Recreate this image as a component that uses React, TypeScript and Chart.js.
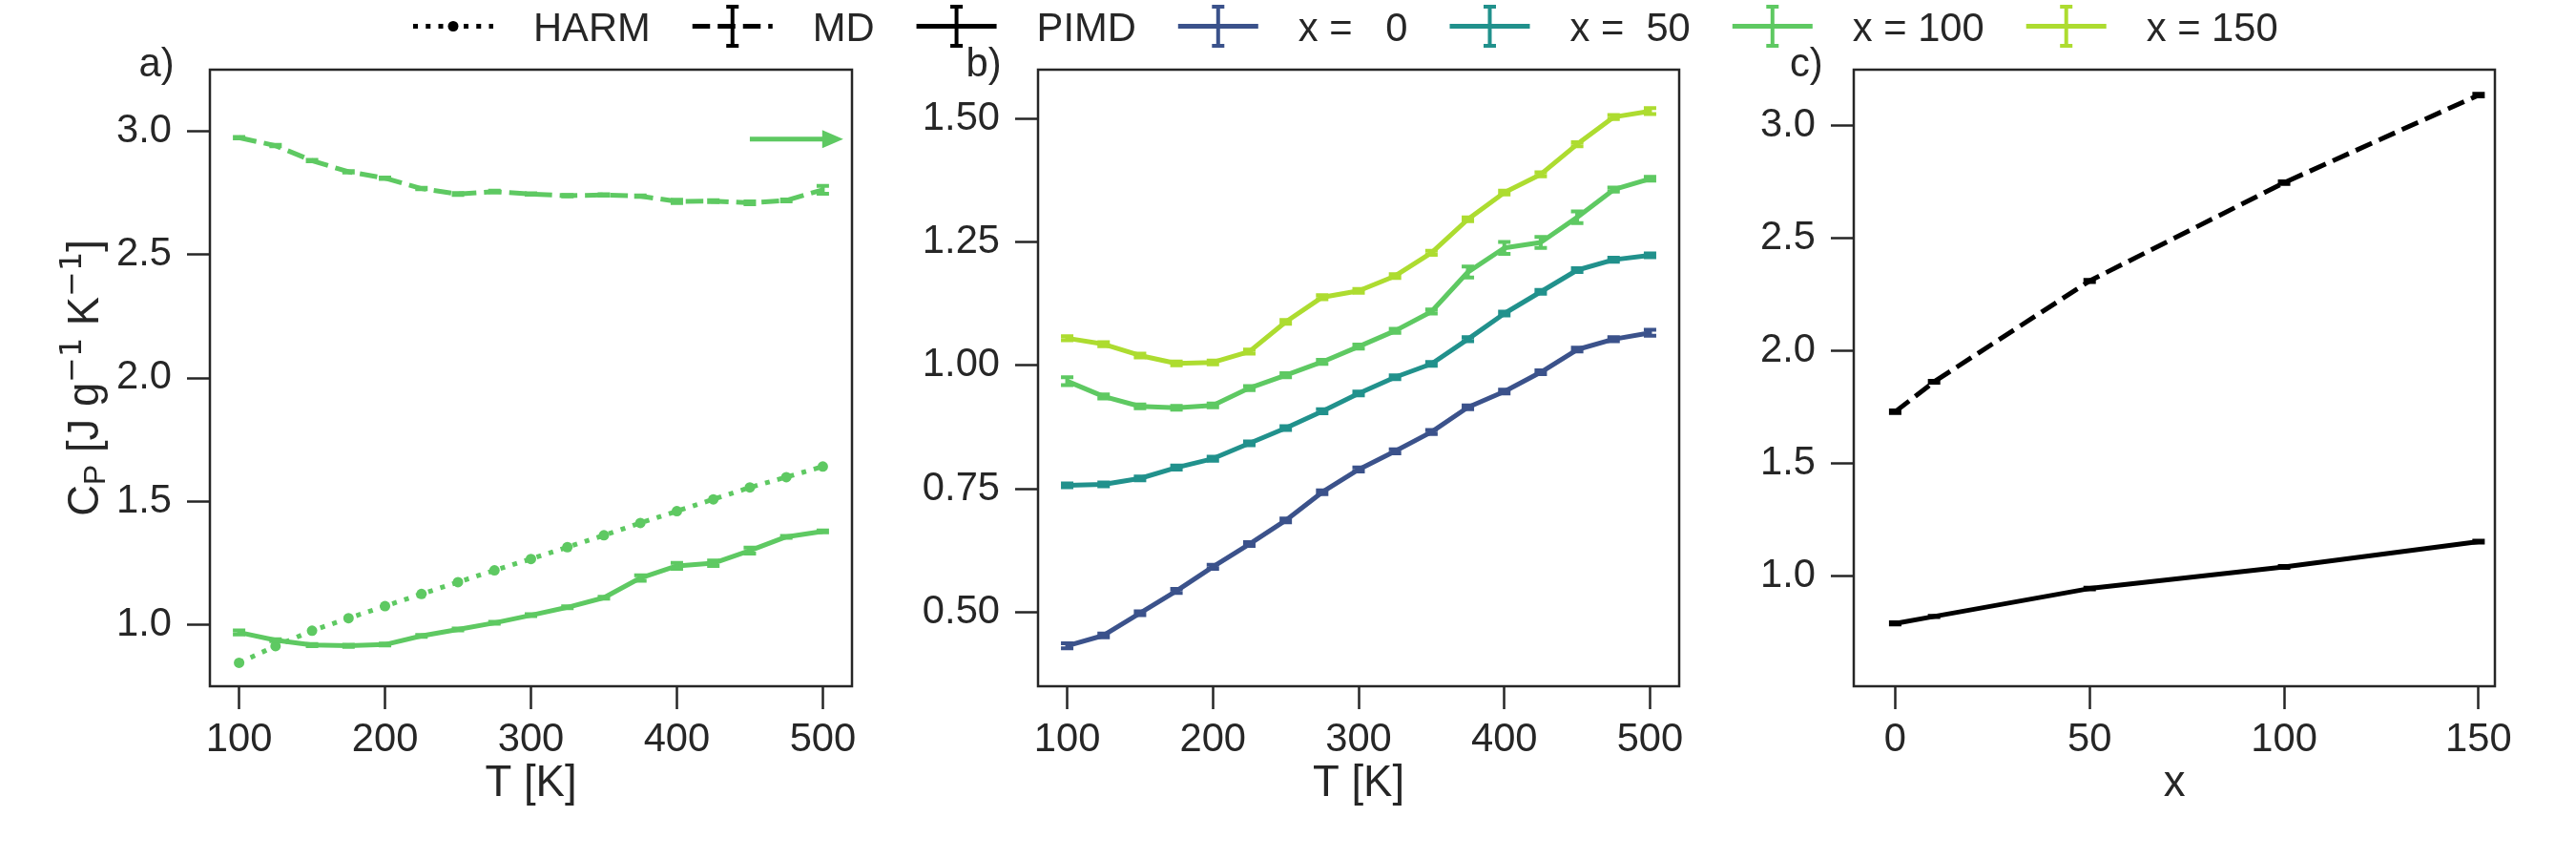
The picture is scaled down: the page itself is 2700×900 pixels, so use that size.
import React, { useEffect, useRef } from "react";
import { Chart, registerables } from "chart.js";

Chart.register(...registerables);

// ---------------- data ----------------
const T_K = [100, 125, 150, 175, 200, 225, 250, 275, 300, 325, 350, 375, 400, 425, 450, 475, 500];

// panel a: x = 100
const HARM_X100 = [0.845, 0.913, 0.975, 1.026, 1.075, 1.124, 1.172, 1.22, 1.266, 1.314, 1.362, 1.412, 1.46, 1.508, 1.556, 1.598, 1.641];
const MD_X100 = [2.974, 2.942, 2.881, 2.836, 2.81, 2.768, 2.746, 2.756, 2.746, 2.739, 2.742, 2.737, 2.716, 2.717, 2.71, 2.72, 2.763];
const MD_X100_ERR = [0.003, 0.003, 0.003, 0.003, 0.003, 0.003, 0.004, 0.003, 0.003, 0.003, 0.003, 0.003, 0.007, 0.004, 0.006, 0.004, 0.016];
const PIMD_X100 = [0.968, 0.937, 0.917, 0.914, 0.919, 0.954, 0.98, 1.007, 1.038, 1.07, 1.109, 1.189, 1.238, 1.249, 1.3, 1.356, 1.378];
const PIMD_X100_ERR = [0.008, 0.004, 0.004, 0.004, 0.004, 0.004, 0.004, 0.004, 0.004, 0.004, 0.004, 0.011, 0.012, 0.011, 0.012, 0.004, 0.004];

// panel b: PIMD for x = 0, 50, 150 (x = 100 above)
const PIMD_X0 = [0.432, 0.453, 0.498, 0.543, 0.592, 0.638, 0.686, 0.743, 0.789, 0.826, 0.865, 0.915, 0.947, 0.986, 1.032, 1.053, 1.066];
const PIMD_X0_ERR = [0.005, 0.004, 0.004, 0.004, 0.004, 0.004, 0.004, 0.004, 0.004, 0.004, 0.004, 0.004, 0.004, 0.004, 0.004, 0.004, 0.006];
const PIMD_X50 = [0.757, 0.759, 0.771, 0.793, 0.811, 0.842, 0.873, 0.907, 0.943, 0.976, 1.003, 1.053, 1.105, 1.149, 1.193, 1.214, 1.223];
const PIMD_X50_ERR = [0.004, 0.004, 0.004, 0.004, 0.004, 0.004, 0.004, 0.004, 0.004, 0.004, 0.004, 0.004, 0.004, 0.004, 0.004, 0.004, 0.004];
const PIMD_X150 = [1.055, 1.043, 1.02, 1.004, 1.006, 1.028, 1.088, 1.138, 1.151, 1.181, 1.228, 1.296, 1.35, 1.387, 1.448, 1.503, 1.515];
const PIMD_X150_ERR = [0.004, 0.004, 0.004, 0.004, 0.004, 0.004, 0.004, 0.004, 0.004, 0.004, 0.004, 0.004, 0.004, 0.004, 0.004, 0.004, 0.006];

// panel c: T = 300 K
const X_CONTENT = [0, 10, 50, 100, 150];
const MD_T300 = [1.73, 1.863, 2.311, 2.747, 3.136];
const MD_T300_ERR = [0.006, 0.004, 0.005, 0.006, 0.006];
const PIMD_T300 = [0.79, 0.821, 0.945, 1.041, 1.153];
const PIMD_T300_ERR = [0.005, 0.003, 0.004, 0.004, 0.004];

const LEGEND_X_VALUES = [0, 50, 100, 150];
const LEGEND_METHODS = ["HARM", "MD", "PIMD"];

// ticks
const TICKS_T = [100, 200, 300, 400, 500];
const TICKS_X = [0, 50, 100, 150];
const TICKS_A_Y = [1.0, 1.5, 2.0, 2.5, 3.0];
const TICKS_B_Y = [0.5, 0.75, 1.0, 1.25, 1.5];
const TICKS_C_Y = [1.0, 1.5, 2.0, 2.5, 3.0];

// annotation arrow in panel a (data coords)
const ARROW_T = [450, 514];
const ARROW_CP = 2.968;

// ---------------- style ----------------
const W = 2700;
const H = 900;
const INK = "#262626";
const SANS = "'Liberation Sans', Arial, Helvetica, sans-serif";
const MATH = "'DejaVu Sans', sans-serif";
const TICK_FS = 41.7;
const LABEL_FS = 45.5;
const LW = 5;
const DASHED = [18.5, 8];
const DOTTED = [5, 8.25];
const SOLID: number[] = [];
const VIRIDIS = ["#3b528b", "#21918c", "#5ec962", "#addc30"];
const CAP_HALF = 6.5;
const ELW = 4;

function series(label: string, xs: number[], ys: number[], errs: number[] | null, color: string, dash: number[], extra: any = {}) {
  return {
    label,
    data: xs.map((x, i) => ({ x, y: ys[i] })),
    errors: errs,
    borderColor: color,
    backgroundColor: color,
    borderWidth: LW,
    borderDash: dash,
    borderCapStyle: "butt",
    borderJoinStyle: "round",
    pointRadius: 0,
    pointHoverRadius: 0,
    tension: 0,
    fill: false,
    ...extra,
  };
}

const GREEN = VIRIDIS[2];

const errorBarPlugin = {
  id: "errbars",
  afterDatasetsDraw(chart: any) {
    const ctx = chart.ctx;
    chart.data.datasets.forEach((ds: any, di: number) => {
      if (!ds.errors) return;
      const meta = chart.getDatasetMeta(di);
      const xs = chart.scales[meta.xAxisID];
      const ys = chart.scales[meta.yAxisID];
      ctx.save();
      ctx.strokeStyle = ds.borderColor;
      ctx.lineWidth = ELW;
      ctx.setLineDash([]);
      ctx.lineCap = "butt";
      ds.data.forEach((p: any, i: number) => {
        const e = ds.errors[i];
        const px = xs.getPixelForValue(p.x);
        const y1 = ys.getPixelForValue(p.y + e);
        const y2 = ys.getPixelForValue(p.y - e);
        ctx.beginPath();
        ctx.moveTo(px, y1);
        ctx.lineTo(px, y2);
        ctx.moveTo(px - CAP_HALF, y1);
        ctx.lineTo(px + CAP_HALF, y1);
        ctx.moveTo(px - CAP_HALF, y2);
        ctx.lineTo(px + CAP_HALF, y2);
        ctx.stroke();
      });
      ctx.restore();
    });
  },
};

const boxPlugin = {
  id: "box",
  afterDraw(chart: any) {
    const { ctx, chartArea: a } = chart;
    ctx.save();
    ctx.strokeStyle = INK;
    ctx.lineWidth = 2.5;
    ctx.setLineDash([]);
    ctx.strokeRect(a.left, a.top, a.right - a.left, a.bottom - a.top);
    ctx.restore();
  },
};

function tagPlugin(text: string, dx: number) {
  return {
    id: "tag",
    afterDraw(chart: any) {
      const { ctx, chartArea: a } = chart;
      ctx.save();
      ctx.font = `${TICK_FS}px ${SANS}`;
      ctx.fillStyle = INK;
      ctx.textAlign = "left";
      ctx.textBaseline = "alphabetic";
      ctx.fillText(text, a.left - dx, 80);
      ctx.restore();
    },
  };
}

const arrowPlugin = {
  id: "arrow",
  afterDatasetsDraw(chart: any) {
    const ctx = chart.ctx;
    const xs = chart.scales.x;
    const ys = chart.scales.y;
    const x1 = xs.getPixelForValue(ARROW_T[0]);
    const x2 = xs.getPixelForValue(ARROW_T[1]);
    const y = ys.getPixelForValue(ARROW_CP);
    ctx.save();
    ctx.strokeStyle = GREEN;
    ctx.fillStyle = GREEN;
    ctx.lineWidth = LW;
    ctx.setLineDash([]);
    ctx.beginPath();
    ctx.moveTo(x1, y);
    ctx.lineTo(x2 - 18, y);
    ctx.stroke();
    ctx.beginPath();
    ctx.moveTo(x2, y);
    ctx.lineTo(x2 - 22, y - 9.5);
    ctx.lineTo(x2 - 22, y + 9.5);
    ctx.closePath();
    ctx.fill();
    ctx.restore();
  },
};

// y-axis label of panel a: C_P [J g^-1 K^-1]
const YLABEL_SEGS = [
  { text: "C", size: LABEL_FS, family: SANS, dy: 0 },
  { text: "P", size: LABEL_FS * 0.7, family: SANS, dy: 7 },
  { text: " [J g", size: LABEL_FS, family: SANS, dy: 0 },
  { text: "\u22121", size: LABEL_FS * 0.7, family: MATH, dy: -18 },
  { text: " K", size: LABEL_FS, family: SANS, dy: 0 },
  { text: "\u22121", size: LABEL_FS * 0.7, family: MATH, dy: -18 },
  { text: "]", size: LABEL_FS, family: SANS, dy: 0 },
];

const yLabelPlugin = {
  id: "ylabel",
  afterDraw(chart: any) {
    const { ctx, chartArea: a } = chart;
    ctx.save();
    const widths = YLABEL_SEGS.map((s) => {
      ctx.font = `${s.size}px ${s.family}`;
      return ctx.measureText(s.text).width;
    });
    const total = widths.reduce((p, c) => p + c, 0);
    ctx.translate(103, (a.top + a.bottom) / 2);
    ctx.rotate(-Math.PI / 2);
    ctx.fillStyle = INK;
    ctx.textAlign = "left";
    ctx.textBaseline = "alphabetic";
    let u = -total / 2;
    YLABEL_SEGS.forEach((s, i) => {
      ctx.font = `${s.size}px ${s.family}`;
      ctx.fillText(s.text, u, s.dy);
      u += widths[i];
    });
    ctx.restore();
  },
};

const LEGEND_ITEMS = [
  { label: LEGEND_METHODS[0], color: "#000000", dash: DOTTED, marker: true },
  { label: LEGEND_METHODS[1], color: "#000000", dash: DASHED, marker: false },
  { label: LEGEND_METHODS[2], color: "#000000", dash: SOLID, marker: false },
  ...LEGEND_X_VALUES.map((v, i) => ({ label: `x = ${String(v).padStart(3, " ")}`, color: VIRIDIS[i], dash: SOLID, marker: false })),
];

const legendPlugin = {
  id: "figlegend",
  afterDraw(chart: any) {
    const ctx = chart.ctx;
    const yLine = 27.5;
    const handleW = 84;
    let x = 433;
    ctx.save();
    for (const it of LEGEND_ITEMS) {
      ctx.strokeStyle = it.color;
      ctx.fillStyle = it.color;
      ctx.lineWidth = LW;
      ctx.lineCap = "butt";
      ctx.setLineDash(it.dash);
      ctx.beginPath();
      ctx.moveTo(x, yLine);
      ctx.lineTo(x + handleW, yLine);
      ctx.stroke();
      ctx.setLineDash([]);
      const cx = x + handleW / 2;
      if (it.marker) {
        ctx.beginPath();
        ctx.arc(cx, yLine, 5.5, 0, Math.PI * 2);
        ctx.fill();
      } else {
        ctx.lineWidth = ELW;
        ctx.beginPath();
        ctx.moveTo(cx, 7);
        ctx.lineTo(cx, 48);
        ctx.moveTo(cx - CAP_HALF, 7);
        ctx.lineTo(cx + CAP_HALF, 7);
        ctx.moveTo(cx - CAP_HALF, 48);
        ctx.lineTo(cx + CAP_HALF, 48);
        ctx.stroke();
      }
      const tx = x + handleW + 42;
      ctx.font = `${TICK_FS}px ${SANS}`;
      ctx.fillStyle = INK;
      ctx.textAlign = "left";
      ctx.textBaseline = "alphabetic";
      ctx.fillText(it.label, tx, 43);
      x = tx + ctx.measureText(it.label).width + 44;
    }
    ctx.restore();
  },
};

type Panel = {
  left: number;
  right: number;
  xMin: number;
  xMax: number;
  xTicks: number[];
  yMin: number;
  yMax: number;
  yTicks: number[];
  yDec: number;
  xTitle: string;
  datasets: any[];
  plugins: any[];
};

const TOP = 73;
const BOTTOM = 719;
const Y_AXIS_W = 200;

function buildConfig(p: Panel): any {
  const tickFont = { family: SANS, size: TICK_FS, lineHeight: 1.2 };
  const grid = {
    display: true,
    drawOnChartArea: false,
    drawTicks: true,
    tickLength: 24,
    tickWidth: 2.5,
    tickColor: INK,
  };
  return {
    type: "line",
    data: { datasets: p.datasets },
    options: {
      responsive: false,
      animation: false,
      devicePixelRatio: 1,
      events: [],
      layout: { padding: { left: p.left - Y_AXIS_W, right: W - p.right, top: TOP, bottom: 0 } },
      plugins: { legend: { display: false }, tooltip: { enabled: false }, title: { display: false } },
      scales: {
        x: {
          type: "linear",
          min: p.xMin,
          max: p.xMax,
          afterBuildTicks: (s: any) => {
            s.ticks = p.xTicks.map((v) => ({ value: v }));
          },
          afterFit: (s: any) => {
            s.height = H - BOTTOM;
          },
          grid,
          border: { display: false },
          ticks: {
            font: tickFont,
            color: INK,
            padding: 7,
            maxRotation: 0,
            autoSkip: false,
            callback: (v: any) => String(v),
          },
          title: {
            display: true,
            text: p.xTitle,
            color: INK,
            font: { family: SANS, size: LABEL_FS, lineHeight: 1.2 },
            padding: { top: 0, bottom: 51 },
          },
        },
        y: {
          type: "linear",
          min: p.yMin,
          max: p.yMax,
          afterBuildTicks: (s: any) => {
            s.ticks = p.yTicks.map((v) => ({ value: v }));
          },
          afterFit: (s: any) => {
            s.width = Y_AXIS_W;
          },
          grid,
          border: { display: false },
          ticks: {
            font: tickFont,
            color: INK,
            padding: 16,
            autoSkip: false,
            callback: (v: any) => Number(v).toFixed(p.yDec),
          },
        },
      },
    },
    plugins: [errorBarPlugin, boxPlugin, ...p.plugins],
  };
}

const PANELS: Panel[] = [
  {
    left: 220,
    right: 893,
    xMin: 80,
    xMax: 520,
    xTicks: TICKS_T,
    yMin: 0.75,
    yMax: 3.25,
    yTicks: TICKS_A_Y,
    yDec: 1,
    xTitle: "T [K]",
    datasets: [
      series("HARM", T_K, HARM_X100, null, GREEN, DOTTED, { pointRadius: 5.5, pointBorderWidth: 0, pointBackgroundColor: GREEN }),
      series("MD", T_K, MD_X100, MD_X100_ERR, GREEN, DASHED),
      series("PIMD", T_K, PIMD_X100, PIMD_X100_ERR, GREEN, SOLID),
    ],
    plugins: [arrowPlugin, tagPlugin("a)", 74.5), yLabelPlugin, legendPlugin],
  },
  {
    left: 1088,
    right: 1760,
    xMin: 80,
    xMax: 520,
    xTicks: TICKS_T,
    yMin: 0.35,
    yMax: 1.599,
    yTicks: TICKS_B_Y,
    yDec: 2,
    xTitle: "T [K]",
    datasets: [
      series("x = 0", T_K, PIMD_X0, PIMD_X0_ERR, VIRIDIS[0], SOLID),
      series("x = 50", T_K, PIMD_X50, PIMD_X50_ERR, VIRIDIS[1], SOLID),
      series("x = 100", T_K, PIMD_X100, PIMD_X100_ERR, VIRIDIS[2], SOLID),
      series("x = 150", T_K, PIMD_X150, PIMD_X150_ERR, VIRIDIS[3], SOLID),
    ],
    plugins: [tagPlugin("b)", 75.5)],
  },
  {
    left: 1943,
    right: 2615,
    xMin: -10.65,
    xMax: 154.2,
    xTicks: TICKS_X,
    yMin: 0.511,
    yMax: 3.249,
    yTicks: TICKS_C_Y,
    yDec: 1,
    xTitle: "x",
    datasets: [
      series("MD", X_CONTENT, MD_T300, MD_T300_ERR, "#000000", DASHED),
      series("PIMD", X_CONTENT, PIMD_T300, PIMD_T300_ERR, "#000000", SOLID),
    ],
    plugins: [tagPlugin("c)", 67)],
  },
];

export default function App() {
  const refA = useRef<HTMLCanvasElement>(null);
  const refB = useRef<HTMLCanvasElement>(null);
  const refC = useRef<HTMLCanvasElement>(null);

  useEffect(() => {
    const refs = [refA, refB, refC];
    const charts = PANELS.map((p, i) => new Chart(refs[i].current as HTMLCanvasElement, buildConfig(p)));
    return () => {
      charts.forEach((c) => c.destroy());
    };
  }, []);

  const cs: React.CSSProperties = { position: "absolute", left: 0, top: 0, width: W, height: H };
  return (
    <div style={{ position: "absolute", left: 0, top: 0, width: W, height: H, background: "#ffffff", overflow: "hidden" }}>
      <canvas ref={refA} width={W} height={H} style={cs} />
      <canvas ref={refB} width={W} height={H} style={cs} />
      <canvas ref={refC} width={W} height={H} style={cs} />
    </div>
  );
}
